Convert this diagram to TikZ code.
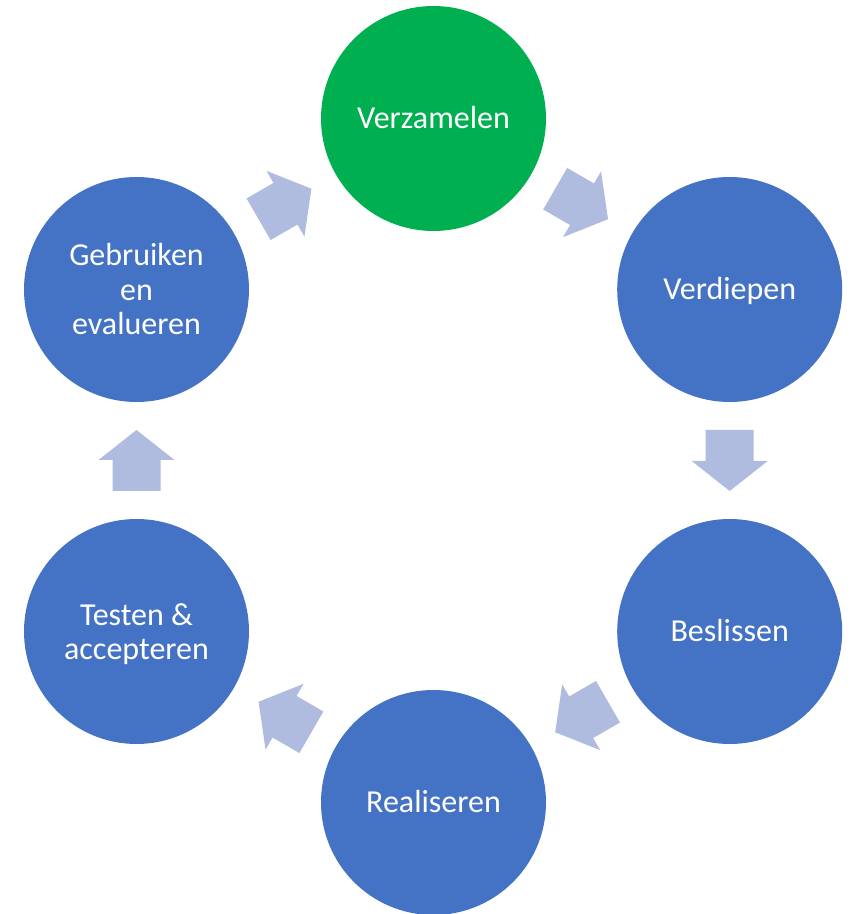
\documentclass[tikz,border=0pt]{standalone}
\usepackage{fontspec}
\setmainfont{Carlito}
\usetikzlibrary{calc}
\definecolor{stepblue}{HTML}{4472C4}
\definecolor{stepgreen}{HTML}{00B050}
\definecolor{arrowfill}{HTML}{AFBCDF}
\begin{document}
\begin{tikzpicture}[x=1pt,y=1pt,
  stage/.style={circle, minimum size=225pt, inner sep=0pt, text=white,
    font=\fontsize{32}{34.5}\selectfont, align=center},
  oneline/.style={text height=24.5pt, text depth=3.5pt},
  cyclearrow/.style={fill=arrowfill, draw=none}]
\useasboundingbox (0,0) rectangle (851,914);
\node[stage, oneline, fill=stepgreen] (A) at (433.5,795.5) {Verzamelen};
\node[stage, oneline, fill=stepblue]  (B) at (729.7,624.5) {Verdiepen};
\node[stage, oneline, fill=stepblue]  (C) at (729.7,282.5) {Beslissen};
\node[stage, oneline, fill=stepblue]  (D) at (433.5,111.5) {Realiseren};
\node[stage, fill=stepblue]  (E) at (136.5,282.5) {};
\node[text=white, font=\fontsize{32}{34.5}\selectfont, align=center, inner sep=0pt]
  (Etext) at ([yshift=-2.5pt]E.center) {Testen \&\\accepteren};
\node[stage, fill=stepblue]  (F) at (136.5,624.5) {Gebruiken\\en\\evalueren};
\foreach \p/\q/\a in {A/B/-30, B/C/-90, C/D/-150, D/E/150, E/F/90, F/A/30}{
  \path[cyclearrow, shift={($(\p)!0.5!(\q)$)}, rotate=\a]
    (-30.5,-24) -- (0.5,-24) -- (0.5,-38) -- (30.5,0) -- (0.5,38)
    -- (0.5,24) -- (-30.5,24) -- cycle;
}
\end{tikzpicture}
\end{document}
